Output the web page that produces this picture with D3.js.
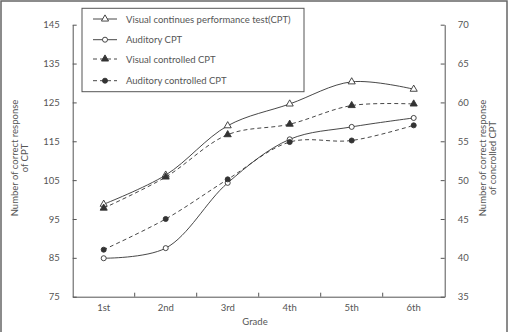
<!DOCTYPE html>
<html>
<head>
<meta charset="utf-8">
<script src="https://cdn.jsdelivr.net/npm/d3@7"></script>
<style>
  body { margin: 0; background: #fff; }
  svg text { font-family: "Lato", "DejaVu Sans", sans-serif; fill: #555; }
</style>
</head>
<body>
<svg id="chart" width="510" height="332"></svg>
<script>
// data
const grades = ["1st", "2nd", "3rd", "4th", "5th", "6th"];
const visualCPT = [98.8, 106.3, 119.0, 124.6, 130.3, 128.4];
const auditoryCPT = [84.9, 87.5, 104.3, 115.5, 118.7, 121.0];
const visualCtrl = [46.4, 50.4, 55.85, 57.2, 59.6, 59.8];
const auditoryCtrl = [41.05, 45.0, 50.1, 54.9, 55.1, 57.05];
const leftTicks = [75, 85, 95, 105, 115, 125, 135, 145];
const rightTicks = [35, 40, 45, 50, 55, 60, 65, 70];
const legendLabels = ["Visual continues performance test(CPT)", "Auditory CPT", "Visual controlled CPT", "Auditory controlled CPT"];

const plotLeft = 72.7, plotRight = 444.7, plotTop = 24.7, plotBottom = 296.7;
const axisColor = "#555", lineColor = "#333";

const svg = d3.select("#chart");

// outer frame
svg.append("rect")
  .attr("x", 1).attr("y", 1)
  .attr("width", 506).attr("height", 340)
  .attr("fill", "none").attr("stroke", "#666").attr("stroke-width", 1.5);

const x = d3.scaleBand().domain(grades).range([plotLeft, plotRight]);
const yL = d3.scaleLinear().domain([75, 145]).range([plotBottom, plotTop]);
const yR = d3.scaleLinear().domain([35, 70]).range([plotBottom, plotTop]);

const yAxisL = d3.axisLeft(yL).tickValues(leftTicks).tickSize(-4).tickSizeOuter(0).tickPadding(13);
const yAxisR = d3.axisRight(yR).tickValues(rightTicks).tickSize(-4).tickSizeOuter(0).tickPadding(13);

function styleAxis(g) {
  g.select(".domain").attr("stroke", axisColor);
  g.selectAll(".tick line").attr("stroke", axisColor);
  g.selectAll("text").attr("fill", "#555").style("font-size", "9.5px");
}

svg.append("g").attr("transform", `translate(${plotLeft},0)`).call(yAxisL).call(styleAxis);
svg.append("g").attr("transform", `translate(${plotRight},0)`).call(yAxisR).call(styleAxis);

// bottom axis: labels in band centres, ticks between bands
const xAxis = d3.axisBottom(x).tickSize(0).tickSizeOuter(0).tickPadding(8);
const gx = svg.append("g").attr("transform", `translate(0,${plotBottom})`).call(xAxis).call(styleAxis);
gx.selectAll(".boundary")
  .data(grades.slice(1))
  .join("line")
  .attr("class", "boundary")
  .attr("x1", d => x(d)).attr("x2", d => x(d))
  .attr("y1", 0).attr("y2", -4)
  .attr("stroke", axisColor);

// axis titles
svg.append("text")
  .attr("x", 255).attr("y", 325)
  .attr("text-anchor", "middle")
  .style("font-size", "9.5px")
  .text("Grade");

const leftTitle = svg.append("g").attr("transform", "translate(0,158) rotate(-90)");
leftTitle.append("text").attr("x", 0).attr("y", 18).attr("text-anchor", "middle").style("font-size", "9.5px").text("Number of correct response");
leftTitle.append("text").attr("x", 0).attr("y", 27.5).attr("text-anchor", "middle").style("font-size", "9.5px").text("of CPT");

const rightTitle = svg.append("g").attr("transform", "translate(0,158) rotate(-90)");
rightTitle.append("text").attr("x", 0).attr("y", 485.5).attr("text-anchor", "middle").style("font-size", "9.5px").text("Number of correct response");
rightTitle.append("text").attr("x", 0).attr("y", 496).attr("text-anchor", "middle").style("font-size", "9.5px").text("of concrolled CPT");

// series
const series = [
  { values: visualCPT, y: yL, dash: null, marker: "triangle", fill: "#fff" },
  { values: auditoryCPT, y: yL, dash: null, marker: "circle", fill: "#fff" },
  { values: visualCtrl, y: yR, dash: "4,3", marker: "triangle", fill: lineColor },
  { values: auditoryCtrl, y: yR, dash: "4,3", marker: "circle", fill: lineColor }
];

const cx = g => x(g) + x.bandwidth() / 2;

const tri = d3.symbol().type(d3.symbolTriangle).size(22);
const circ = d3.symbol().type(d3.symbolCircle).size(20);

function drawMarker(sel, s) {
  sel.attr("d", s.marker === "triangle" ? tri : circ)
    .attr("fill", s.fill)
    .attr("stroke", lineColor)
    .attr("stroke-width", 0.9);
}

series.forEach(s => {
  const line = d3.line()
    .x((d, i) => cx(grades[i]))
    .y(d => s.y(d))
    .curve(d3.curveCatmullRom.alpha(0.5));
  svg.append("path")
    .datum(s.values)
    .attr("d", line)
    .attr("fill", "none")
    .attr("stroke", lineColor)
    .attr("stroke-width", 0.9)
    .attr("stroke-dasharray", s.dash);
  svg.append("g").selectAll("path")
    .data(s.values)
    .join("path")
    .attr("transform", (d, i) => `translate(${cx(grades[i])},${s.y(d)})`)
    .call(drawMarker, s);
});

// legend
const legend = svg.append("g");
legend.append("rect")
  .attr("x", 82).attr("y", 8.3)
  .attr("width", 222).attr("height", 83.4)
  .attr("fill", "#fff").attr("stroke", axisColor).attr("stroke-width", 1);

const rowY = [19, 39.7, 59, 80.7];
const rows = legend.selectAll(".row")
  .data(series)
  .join("g")
  .attr("class", "row")
  .attr("transform", (d, i) => `translate(0,${rowY[i]})`);

rows.append("line")
  .attr("x1", 93).attr("x2", 117)
  .attr("stroke", lineColor).attr("stroke-width", 0.9)
  .attr("stroke-dasharray", d => d.dash);
rows.append("path")
  .attr("transform", "translate(105,0)")
  .each(function(d) { d3.select(this).call(drawMarker, d); });
rows.append("text")
  .attr("x", 126).attr("y", 0)
  .attr("dominant-baseline", "central")
  .style("font-size", "9.5px")
  .text((d, i) => legendLabels[i]);
</script>
</body>
</html>
